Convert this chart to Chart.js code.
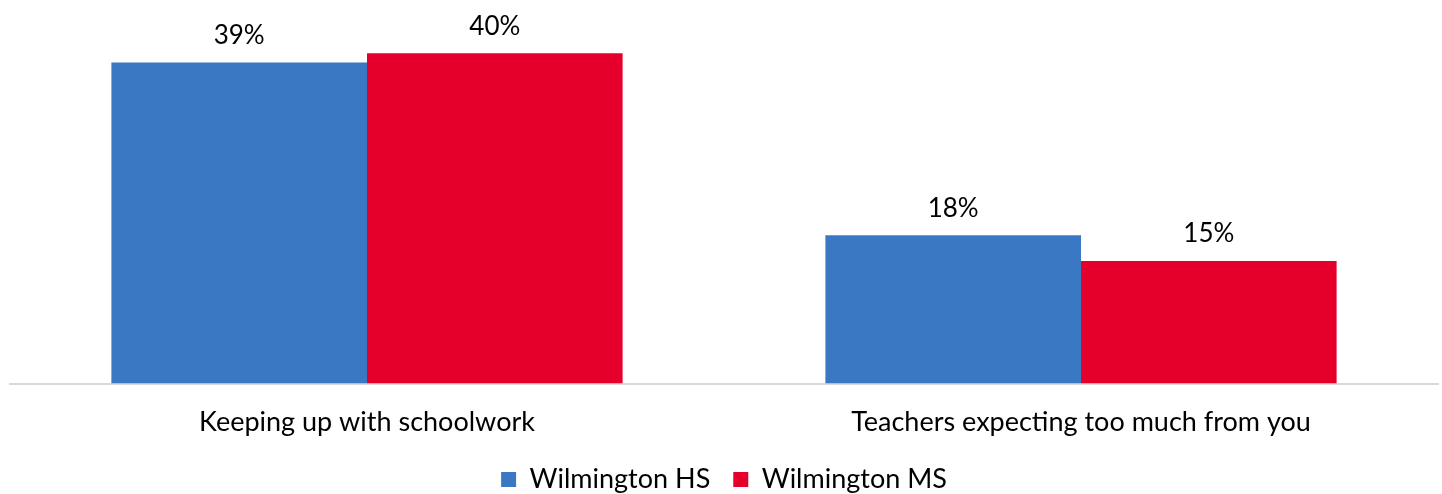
<!DOCTYPE html>
<html>
<head>
<meta charset="utf-8">
<script src="https://cdn.jsdelivr.net/npm/chart.js@4/dist/chart.umd.min.js"></script>
<style>
html,body{margin:0;padding:0;background:#fff;}
#wrap{width:1442px;height:494px;position:relative;}
</style>
</head>
<body>
<div id="wrap"><canvas id="c"></canvas></div>
<script>
const categories = ["Keeping up with schoolwork", "Teachers expecting too much from you"];
const seriesNames = ["Wilmington HS", "Wilmington MS"];
const hsValues = [39, 18];
const msValues = [40.1, 14.9];
const colors = ["#3B78C4", "#E4002B"];

const FONT = "Lato, 'Open Sans', sans-serif";

const labelPlugin = {
  id: 'valueLabels',
  afterDatasetsDraw(chart) {
    const ctx = chart.ctx;
    ctx.save();
    ctx.font = "26px " + FONT;
    ctx.fillStyle = "#000";
    ctx.textAlign = "center";
    ctx.textBaseline = "bottom";
    chart.data.datasets.forEach((ds, di) => {
      const meta = chart.getDatasetMeta(di);
      meta.data.forEach((bar, i) => {
        ctx.fillText(Math.round(ds.data[i]) + "%", bar.x, bar.y - 14);
      });
    });
    ctx.restore();
  }
};

new Chart(document.getElementById('c'), {
  type: 'bar',
  data: {
    labels: categories,
    datasets: [
      { label: seriesNames[0], data: hsValues, backgroundColor: colors[0], categoryPercentage: 0.716, barPercentage: 1.0 },
      { label: seriesNames[1], data: msValues, backgroundColor: colors[1], categoryPercentage: 0.716, barPercentage: 1.0 }
    ]
  },
  options: {
    responsive: true,
    maintainAspectRatio: false,
    animation: false,
    layout: { padding: { top: 13, left: 10, right: 4, bottom: -9 } },
    plugins: {
      tooltip: { enabled: false },
      legend: {
        position: 'bottom',
        labels: {
          font: { size: 27, family: FONT },
          color: "#000",
          boxWidth: 15,
          boxHeight: 15,
          padding: 23
        }
      }
    },
    scales: {
      x: {
        grid: { display: false, drawTicks: false },
        border: { display: true, color: "#D9D9D9", width: 2 },
        ticks: { font: { size: 27, family: FONT }, color: "#000", padding: 22 },
        afterFit(scale) { scale.height -= 17; }
      },
      y: {
        display: false,
        min: 0,
        max: 45
      }
    }
  },
  plugins: [labelPlugin]
});
</script>
</body>
</html>
